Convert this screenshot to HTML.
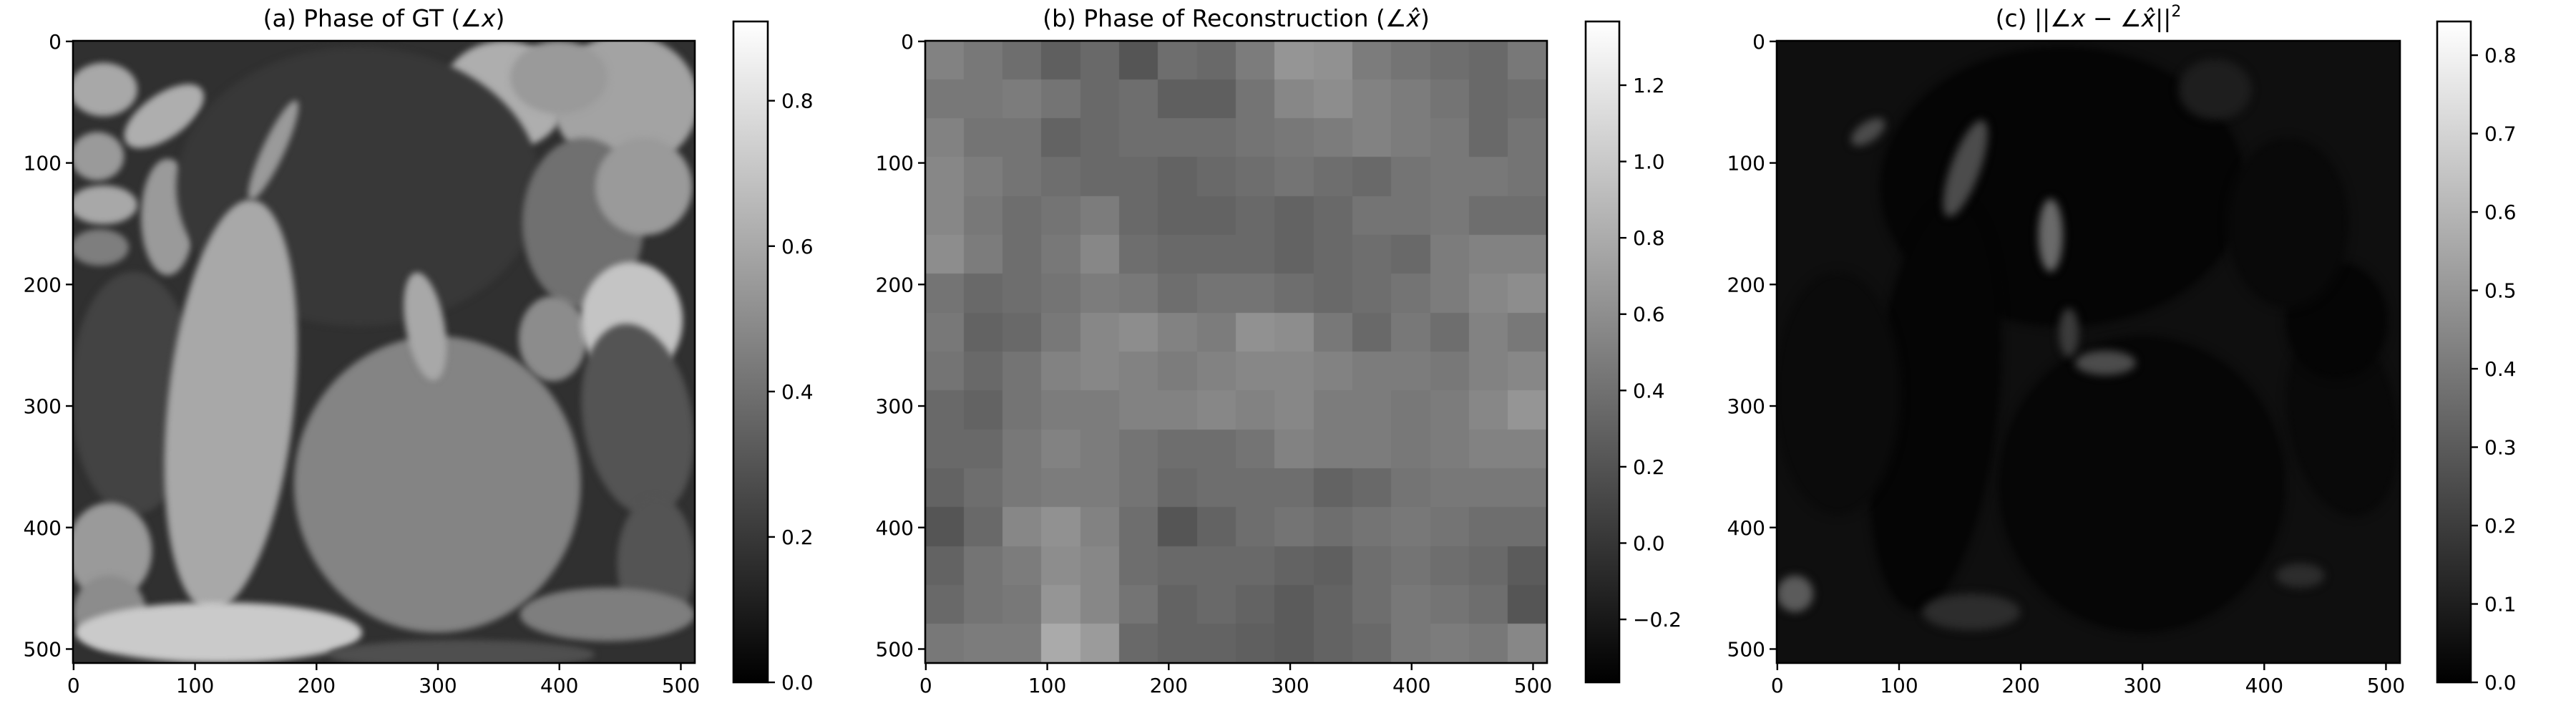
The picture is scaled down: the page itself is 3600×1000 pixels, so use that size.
<!DOCTYPE html>
<html><head><meta charset="utf-8">
<style>
html,body{margin:0;padding:0;background:#fff;width:3600px;height:1000px;overflow:hidden}
#wrap{position:relative;width:3600px;height:1000px}
canvas{position:absolute}
svg{position:absolute;left:0;top:0}
text{font-family:"DejaVu Sans","Liberation Sans",sans-serif;fill:#000}
</style></head>
<body>
<div id="wrap">
<canvas id="ca" width="869" height="869" style="left:102px;top:57px"></canvas>
<canvas id="cb" width="869" height="869" style="left:1293px;top:57px"></canvas>
<canvas id="cc" width="871" height="869" style="left:2483px;top:57px"></canvas>
<svg id="ov" width="3600" height="1000"></svg>
</div>
<script>
// ---- data ----
const xTicks=[0,100,200,300,400,500];
const yTicks=[0,100,200,300,400,500];
const cbTicksA=[0.0,0.2,0.4,0.6,0.8];
const cbTicksB=[-0.2,0.0,0.2,0.4,0.6,0.8,1.0,1.2];
const cbTicksC=[0.0,0.1,0.2,0.3,0.4,0.5,0.6,0.7,0.8];
const rangeA=[0,0.909];
const rangeB=[-0.365,1.367];
const rangeC=[0,0.843];
// panel a shapes: [cx, cy, rx, ry, rotDeg, value]
const bgA=0.17;
const shapesA=[
[25,40,28,22,0,0.6],[75,62,38,18,-35,0.62],[20,95,22,20,0,0.55],[25,135,28,16,0,0.6],[22,170,24,15,0,0.45],
[78,145,22,48,0,0.55],[355,45,52,45,0,0.62],[455,50,60,55,0,0.58],[400,30,40,30,0,0.55],
[235,120,150,115,0,0.2],[420,150,50,70,0,0.4],[470,120,40,40,0,0.55],[395,245,28,35,0,0.5],
[460,230,42,48,0,0.7],[465,312,45,80,-10,0.3],[480,430,32,55,0,0.3],[440,472,72,22,0,0.45],
[50,290,52,100,0,0.24],[30,420,35,40,0,0.55],[30,470,30,30,0,0.5],
[130,300,52,170,6,0.6],[165,90,9,45,25,0.55],
[300,365,118,122,0,0.47],[290,235,16,45,-10,0.6],[120,487,118,25,0,0.72],[320,505,110,12,0,0.28]
];
// panel b 16x16 block values
const gridB=[
[.52,.45,.38,.28,.35,.21,.38,.35,.48,.65,.62,.48,.42,.38,.35,.45],
[.45,.45,.48,.42,.35,.38,.28,.28,.42,.55,.59,.52,.48,.42,.35,.38],
[.52,.42,.42,.31,.35,.38,.38,.38,.42,.45,.48,.52,.48,.45,.35,.42],
[.55,.48,.42,.38,.35,.35,.31,.35,.38,.42,.38,.35,.42,.45,.45,.42],
[.55,.45,.38,.42,.48,.35,.31,.31,.35,.31,.35,.42,.42,.45,.38,.38],
[.59,.48,.38,.45,.55,.38,.35,.35,.35,.31,.35,.38,.35,.48,.52,.52],
[.42,.35,.38,.42,.48,.45,.38,.42,.42,.38,.35,.38,.42,.48,.55,.59],
[.45,.31,.35,.45,.55,.59,.52,.48,.62,.59,.45,.35,.45,.38,.52,.45],
[.42,.35,.42,.52,.55,.52,.48,.52,.55,.55,.52,.48,.48,.45,.52,.55],
[.35,.31,.42,.48,.48,.52,.52,.55,.52,.55,.48,.48,.45,.48,.55,.65],
[.35,.35,.45,.52,.48,.42,.38,.38,.42,.52,.48,.48,.45,.48,.52,.52],
[.31,.38,.45,.48,.48,.42,.35,.38,.38,.38,.31,.35,.42,.45,.45,.45],
[.21,.35,.55,.62,.52,.38,.21,.31,.38,.42,.38,.42,.45,.42,.38,.38],
[.31,.42,.48,.59,.55,.38,.35,.35,.35,.31,.28,.38,.42,.38,.35,.25],
[.35,.42,.45,.65,.55,.42,.31,.35,.31,.25,.31,.38,.45,.42,.38,.21],
[.45,.48,.48,.79,.69,.35,.31,.31,.28,.25,.31,.35,.45,.48,.45,.55]
];
// panel c shapes
const bgC=0.05;
const shapesC=[
[235,120,150,115,0,0.015],[130,300,52,170,6,0.015],[300,365,118,122,0,0.02],[465,312,45,80,-10,0.03],
[50,290,52,100,0,0.035],[460,230,42,48,0,0.015],[420,150,50,70,0,0.03],
[225,160,10,30,0,0.35],[155,105,12,42,20,0.25],[15,455,15,15,0,0.3],[75,75,16,8,-35,0.25],
[160,470,40,15,0,0.15],[270,265,25,10,0,0.25],[240,240,8,20,0,0.2],[360,40,30,25,0,0.1],[430,440,20,10,0,0.15]
];
// ---- geometry ----
const AX=[{l:102,t:57,w:869,h:869},{l:1293,t:57,w:869,h:869},{l:2483,t:57,w:871,h:869}];
const CB=[{l:1025,t:30,w:48,h:923,r:rangeA,ticks:cbTicksA},{l:2216,t:30,w:47,h:923,r:rangeB,ticks:cbTicksB},{l:3406,t:30,w:47,h:923,r:rangeC,ticks:cbTicksC}];
function gray(v,r){let n=(v-r[0])/(r[1]-r[0]);n=Math.max(0,Math.min(1,n));const g=Math.round(n*255);return `rgb(${g},${g},${g})`;}
function drawShapes(id,bg,shapes,r,blur){
  const c=document.getElementById(id),ctx=c.getContext('2d');const sx=c.width/512,sy=c.height/512;
  ctx.fillStyle=gray(bg,r);ctx.fillRect(0,0,c.width,c.height);
  ctx.filter=`blur(${blur}px)`;
  for(const s of shapes){ctx.save();ctx.translate(s[0]*sx,s[1]*sy);ctx.rotate(s[4]*Math.PI/180);ctx.beginPath();ctx.ellipse(0,0,s[2]*sx,s[3]*sy,0,0,2*Math.PI);ctx.fillStyle=gray(s[5],r);ctx.fill();ctx.restore();}
  ctx.filter='none';
}
drawShapes('ca',bgA,shapesA,rangeA,4);
drawShapes('cc',bgC,shapesC,rangeC,6);
(function(){const c=document.getElementById('cb'),ctx=c.getContext('2d');const n=gridB.length,bw=c.width/n,bh=c.height/n;
for(let i=0;i<n;i++)for(let j=0;j<n;j++){ctx.fillStyle=gray(gridB[i][j],rangeB);ctx.fillRect(Math.floor(j*bw),Math.floor(i*bh),Math.ceil(bw)+1,Math.ceil(bh)+1);}})();
// ---- overlay ----
const svg=document.getElementById('ov');const NS='http://www.w3.org/2000/svg';
function el(t,a,p){const e=document.createElementNS(NS,t);for(const k in a)e.setAttribute(k,a[k]);(p||svg).appendChild(e);return e;}
const titles=[['(a) Phase of GT (','∠','x',')'],['(b) Phase of Reconstruction (','∠','x̂',')']];
AX.forEach((a,k)=>{
  const g=el('g',{});
  
  
  const fx=v=>a.l+(v+0.5)*a.w/512, fy=v=>a.t+(v+0.5)*a.h/512;
  const fr=el('rect',{x:a.l,y:a.t,width:a.w,height:a.h,fill:'none',stroke:'#000','stroke-width':2.6},g);
  
  
  xTicks.forEach(v=>{const x=fx(v);el('line',{x1:x,x2:x,y1:a.t+a.h,y2:a.t+a.h+10,stroke:'#000','stroke-width':2.4},g);
    const t=el('text',{x:x,y:967,'font-size':28,'text-anchor':'middle'},g);t.textContent=v;
    
    });
  yTicks.forEach(v=>{const y=fy(v);el('line',{x1:a.l-10,x2:a.l,y1:y,y2:y,stroke:'#000','stroke-width':2.4},g);
    const t=el('text',{x:a.l-16,y:y+10,'font-size':28,'text-anchor':'end'},g);t.textContent=v;
    
    });
  const tt=el('text',{x:a.l+a.w/2,y:37,'font-size':33,'text-anchor':'middle'},g);
  
  
  if(k<2){const p=titles[k];tt.appendChild(document.createTextNode(p[0]+p[1]));const s=el('tspan',{'font-style':'italic'},tt);s.textContent=p[2];tt.appendChild(document.createTextNode(p[3]));}
  else{tt.appendChild(document.createTextNode('(c) ||∠'));let s=el('tspan',{'font-style':'italic'},tt);s.textContent='x';
    tt.appendChild(document.createTextNode(' − ∠'));s=el('tspan',{'font-style':'italic'},tt);s.textContent='x̂';
    tt.appendChild(document.createTextNode('||'));s=el('tspan',{'font-size':22,dy:-14},tt);s.textContent='2';}
  const c=CB[k];const gid='grad'+k;
  const lg=el('linearGradient',{id:gid,x1:0,y1:1,x2:0,y2:0},el('defs',{},g));
  el('stop',{offset:0,'stop-color':'#000'},lg);el('stop',{offset:1,'stop-color':'#fff'},lg);
  const cr=el('rect',{x:c.l,y:c.t,width:c.w,height:c.h,fill:`url(#${gid})`,stroke:'#000','stroke-width':2.6},g);
  
  
  const cy=v=>c.t+c.h-(v-c.r[0])/(c.r[1]-c.r[0])*c.h;
  c.ticks.forEach(v=>{const y=cy(v);el('line',{x1:c.l+c.w,x2:c.l+c.w+10,y1:y,y2:y,stroke:'#000','stroke-width':2.4},g);
    const t=el('text',{x:c.l+c.w+19,y:y+10,'font-size':28},g);t.textContent=(v<0?'−':'')+Math.abs(v).toFixed(1);
    
    });
});
</script>
</body></html>
